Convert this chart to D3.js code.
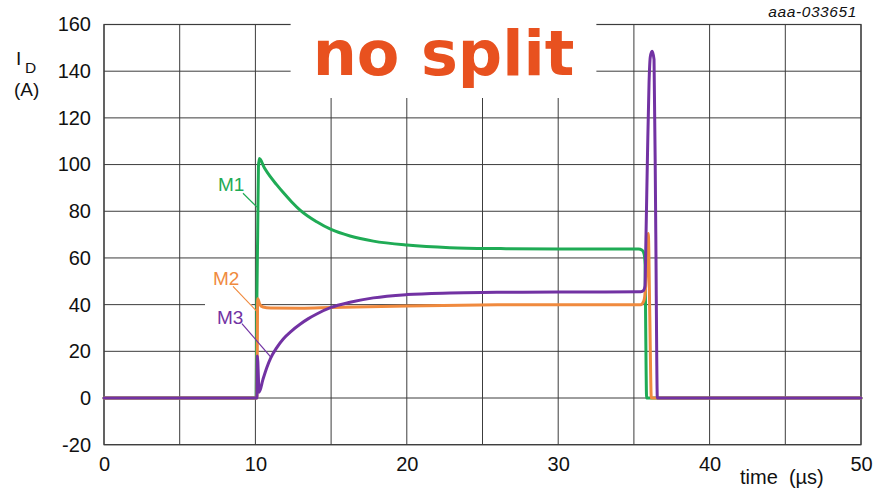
<!DOCTYPE html>
<html>
<head>
<meta charset="utf-8">
<script src="https://cdn.jsdelivr.net/npm/d3@7"></script>
<style>
  html, body { margin: 0; padding: 0; background: #fff; }
  svg { display: block; font-family: "Liberation Sans", Arial, sans-serif; }
</style>
</head>
<body>
<svg id="chart" width="873" height="491"></svg>
<script>
// Drain current of three paralleled MOSFETs during a turn-on / turn-off pulse (t in µs, I_D in A)
const m1Current = [
  [0, 0], [10.05, 0], [10.1, 44], [10.15, 70], [10.2, 99], [10.26, 102.6],
  [10.6, 98.5], [10.96, 95], [11.4, 91.4], [11.84, 88], [12.4, 84], [12.95, 80.5],
  [14.05, 75.5], [15, 72.2], [16.25, 69.4], [17.79, 67.2], [20, 65.5], [22.85, 64.4],
  [26.2, 64], [30, 63.8], [35.3, 63.8], [35.55, 63.3], [35.68, 61.5], [35.74, 57],
  [35.78, 30], [35.84, 0], [50, 0]
];
const m2Current = [
  [0, 0], [10.1, 0], [10.15, 42.5], [10.3, 40], [10.5, 39], [11, 38.6], [13, 38.5],
  [15, 38.8], [20, 39.4], [26, 39.9], [30, 40], [35.45, 40], [35.65, 41.5],
  [35.78, 48], [35.88, 62], [35.95, 70.5], [36.05, 35], [36.15, 0], [50, 0]
];
const m3Current = [
  [0, 0], [10.1, 0], [10.13, 18], [10.25, 2.5], [10.5, 8], [10.75, 13], [11, 17],
  [11.4, 21.5], [11.84, 25.3], [12.4, 28.8], [12.95, 31.6], [13.5, 34], [14.05, 36],
  [15, 38.8], [16.25, 41], [17.79, 42.9], [20, 44.3], [22.85, 45], [26.2, 45.3],
  [30, 45.4], [35.45, 45.5], [35.65, 46.2], [35.73, 48], [35.8, 70], [35.9, 105],
  [36.0, 135], [36.08, 146], [36.2, 148.5], [36.33, 145], [36.44, 75], [36.55, 0], [50, 0]
];

const xTicks = [0, 10, 20, 30, 40, 50];
const xGrid = [0, 5, 10, 15, 20, 25, 30, 35, 40, 45, 50];
const yTicks = [-20, 0, 20, 40, 60, 80, 100, 120, 140, 160];

// Series labels: text anchor and leader line end-points, in data units
const seriesLabels = [
  { name: "M1", color: "#1fab55", at: [7.53, 88.5], from: [9.18, 87.7], to: [10.1, 81.8] },
  { name: "M2", color: "#f08a3e", at: [7.2, 48.2], from: [8.52, 47.8], to: [10.17, 36.6] },
  { name: "M3", color: "#7232a3", at: [7.46, 31.9], from: [9.11, 31.9], to: [11.02, 17.5] }
];

const series = [
  { name: "M1", color: "#1fab55", values: m1Current },
  { name: "M2", color: "#f08a3e", values: m2Current },
  { name: "M3", color: "#7232a3", values: m3Current }
];

const svg = d3.select("#chart");
const plot = { left: 104, right: 861, top: 24.5, bottom: 444.7 };
const sans = "'Liberation Sans', Arial, sans-serif";

const x = d3.scaleLinear().domain([0, 50]).range([plot.left, plot.right]);
const y = d3.scaleLinear().domain([-20, 160]).range([plot.bottom, plot.top]);

// Grid
const grid = svg.append("g").attr("stroke", "#3c3c3c").attr("stroke-width", 1);
grid.selectAll("line.v").data(xGrid).join("line").attr("class", "v")
  .attr("x1", d => x(d)).attr("x2", d => x(d))
  .attr("y1", plot.top).attr("y2", plot.bottom);
grid.selectAll("line.h").data(yTicks).join("line").attr("class", "h")
  .attr("x1", plot.left).attr("x2", plot.right)
  .attr("y1", d => y(d)).attr("y2", d => y(d));
svg.append("rect")
  .attr("x", plot.left).attr("y", plot.top)
  .attr("width", plot.right - plot.left).attr("height", plot.bottom - plot.top)
  .attr("fill", "none").attr("stroke", "#3c3c3c").attr("stroke-width", 1.2);

// Axis tick labels (plain hyphen for negatives)
const yAxis = d3.axisLeft(y).tickValues(yTicks).tickSize(0).tickPadding(13).tickFormat(d => String(d));
svg.append("g").attr("transform", `translate(${plot.left},0)`).call(yAxis)
  .call(g => g.select(".domain").remove())
  .call(g => g.selectAll("text").attr("fill", "#111")
    .style("font-size", "20px").style("font-family", sans));

const xAxis = d3.axisBottom(x).tickValues(xTicks).tickSize(0).tickPadding(12).tickFormat(d => String(d));
svg.append("g").attr("transform", `translate(0,${plot.bottom})`).call(xAxis)
  .call(g => g.select(".domain").remove())
  .call(g => g.selectAll("text").attr("fill", "#111")
    .style("font-size", "20px").style("font-family", sans));

// Axis titles
svg.append("text").attr("x", 740).attr("y", 484).attr("font-size", 20).attr("fill", "#111")
  .style("white-space", "pre").text("time  (µs)");
svg.append("text").attr("x", 16).attr("y", 65).attr("font-size", 19).attr("fill", "#111").text("I");
svg.append("text").attr("x", 25).attr("y", 73).attr("font-size", 15.5).attr("fill", "#111").text("D");
svg.append("text").attr("x", 14).attr("y", 96).attr("font-size", 19).attr("fill", "#111").text("(A)");
svg.append("text").attr("x", 857).attr("y", 17).attr("text-anchor", "end")
  .attr("font-size", 15.5).attr("font-style", "italic").attr("letter-spacing", 0.6)
  .attr("fill", "#111").text("aaa-033651");

// Curves
const line = d3.line().x(d => x(d[0])).y(d => y(d[1])).curve(d3.curveMonotoneX);
svg.append("g").selectAll("path").data(series).join("path")
  .attr("d", d => line(d.values))
  .attr("fill", "none")
  .attr("stroke", d => d.color)
  .attr("stroke-width", 3)
  .attr("stroke-linejoin", "round")
  .attr("stroke-linecap", "round");

// Series labels with white backing and leader lines
const labelG = svg.append("g");
const labelTexts = labelG.selectAll("text").data(seriesLabels).join("text")
  .attr("x", d => x(d.at[0])).attr("y", d => y(d.at[1]))
  .attr("font-size", 19).attr("fill", d => d.color).text(d => d.name);
const boxes = [];
labelTexts.each(function () { boxes.push(this.getBBox()); });
const lower = boxes.slice(1);
const bx0 = d3.min(lower, b => b.x) - 8, bx1 = d3.max(lower, b => b.x + b.width) + 8;
const by0 = d3.min(lower, b => b.y) - 6, by1 = d3.max(lower, b => b.y + b.height) + 8;
labelG.insert("rect", "text").attr("x", bx0).attr("y", by0)
  .attr("width", bx1 - bx0).attr("height", by1 - by0).attr("fill", "#fff");
labelG.selectAll("line").data(seriesLabels).join("line")
  .attr("x1", d => x(d.from[0])).attr("y1", d => y(d.from[1]))
  .attr("x2", d => x(d.to[0])).attr("y2", d => y(d.to[1]))
  .attr("stroke", d => d.color).attr("stroke-width", 1.2);

// Heading on a white panel
const head = svg.append("g");
const headText = head.append("text")
  .attr("x", 443.5).attr("y", 75).attr("text-anchor", "middle")
  .attr("fill", "#e8511f")
  .style("font-family", "'DejaVu Sans', Verdana, sans-serif")
  .style("font-weight", "bold").style("font-size", "62px")
  .text("no split");
const hb = headText.node().getBBox();
head.insert("rect", "text")
  .attr("x", hb.x - 22).attr("y", 10)
  .attr("width", hb.width + 44).attr("height", 88).attr("fill", "#fff");
</script>
</body>
</html>
